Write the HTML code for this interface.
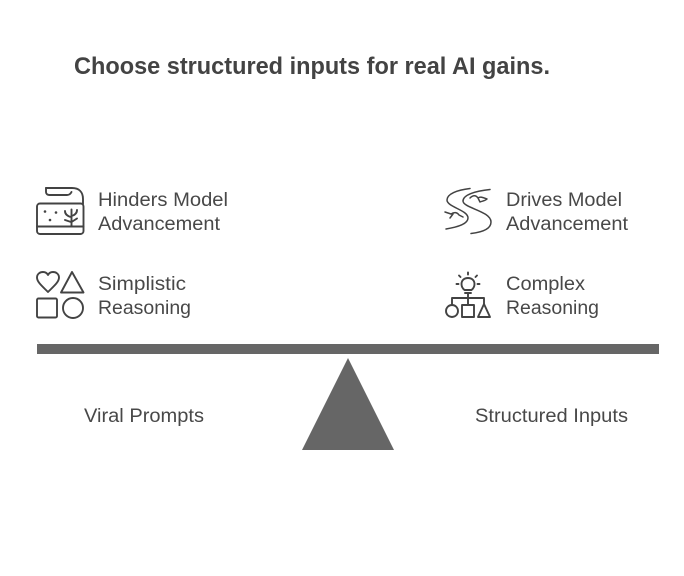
<!DOCTYPE html>
<html>
<head>
<meta charset="utf-8">
<style>
html,body{margin:0;padding:0;background:#fff;width:684px;height:576px;overflow:hidden}
svg{display:block}
text{font-family:"Liberation Sans",sans-serif;fill:#484848;font-size:19px}
.t{font-weight:bold;font-size:24px;fill:#434343}
.i{fill:none;stroke:#434343;stroke-width:1.9;stroke-linecap:round;stroke-linejoin:round}
.r{stroke-width:1.5}
</style>
</head>
<body>
<svg width="684" height="576" viewBox="0 0 684 576" xmlns="http://www.w3.org/2000/svg">
<rect width="684" height="576" fill="#fff"/>
<text class="t" x="74" y="74" textLength="476" lengthAdjust="spacingAndGlyphs">Choose structured inputs for real AI gains.</text>

<text x="98" y="206" textLength="130" lengthAdjust="spacingAndGlyphs">Hinders Model</text>
<text x="98" y="230" textLength="122" lengthAdjust="spacingAndGlyphs">Advancement</text>
<text x="98" y="290" textLength="88" lengthAdjust="spacingAndGlyphs">Simplistic</text>
<text x="98" y="314" textLength="93" lengthAdjust="spacingAndGlyphs">Reasoning</text>
<text x="506" y="206" textLength="116" lengthAdjust="spacingAndGlyphs">Drives Model</text>
<text x="506" y="230" textLength="122" lengthAdjust="spacingAndGlyphs">Advancement</text>
<text x="506" y="290" textLength="79" lengthAdjust="spacingAndGlyphs">Complex</text>
<text x="506" y="314" textLength="93" lengthAdjust="spacingAndGlyphs">Reasoning</text>
<text x="84" y="422" textLength="120" lengthAdjust="spacingAndGlyphs">Viral Prompts</text>
<text x="475" y="422" textLength="153" lengthAdjust="spacingAndGlyphs">Structured Inputs</text>

<!-- Hinders icon -->
<g class="i">
<path d="M46 188H72C79 188 83 192 83 199V204"/>
<path d="M46 188V192C46 194 47.500 195 49.500 195H67C69 195 70.500 194 71.500 192"/>
<rect x="37" y="203.500" width="46.500" height="30.500" rx="3"/>
<path d="M37 226.500H83.500"/>
<path d="M71.500 209.500V226M65 211C65 214 67 216 71 217M77 210C77 213 75 215 71.500 216M65 220L71 222M77 218.500L71.500 222"/>
</g>
<circle cx="45" cy="211.500" r="1.300" fill="#434343"/>
<circle cx="56" cy="212.500" r="1.300" fill="#434343"/>
<circle cx="50" cy="220" r="1.300" fill="#434343"/>

<!-- Simplistic icon -->
<g class="i">
<path d="M48 292C42 286 37 282 37 277.500C37 274 40 272 43 272C45 272 47 273 48 275C49 273 51 272 53 272C56 272 59 274 59 277.500C59 282 54 286 48 292Z"/>
<path d="M72 272L83.500 292.500H61Z"/>
<rect x="37" y="298.500" width="20" height="19" rx="1.500"/>
<circle cx="73" cy="308" r="10"/>
</g>

<!-- Drives icon -->
<g class="i r">
<path d="M470 188.500C457 190 447 194 447 200C447 207 468 210 468 218C468 224 458 227 446 229"/>
<path d="M490 189.500C475 191 463 195 463 201C463 208 491 211 491 222C491 228 484 232 471 233.500"/>
<path d="M470 198C473 195 476 195 478 198C481 196 484 198 487 199C485 201 482 201 480 202M478 198L480 202"/>
<path d="M445 212L451 214C454 212 457 212 459 215L463 217M453 214L450 218"/>
</g>

<!-- Complex icon -->
<g class="i">
<path d="M464.500 290C462 288 461.500 286 461.500 284C461.500 280.500 464 278 468 278C472 278 474.500 280.500 474.500 284C474.500 286 474 288 471.500 290Z"/>
<path d="M465 293H471"/>
<path d="M468 293V305"/>
<path d="M452 305V298H484V304"/>
<path d="M468 272.500V274.500M459 275.500L460.500 277M477 275.500L475.500 277M456.500 284H458.500M479.500 284H477.500"/>
<circle cx="452" cy="311" r="6"/>
<rect x="462" y="305" width="12" height="12"/>
<path d="M484 304L490 317H478Z"/>
</g>

<!-- Balance -->
<rect x="37" y="344" width="622" height="10" fill="#666"/>
<path d="M348 358L394 450H302Z" fill="#666"/>
</svg>
</body>
</html>
